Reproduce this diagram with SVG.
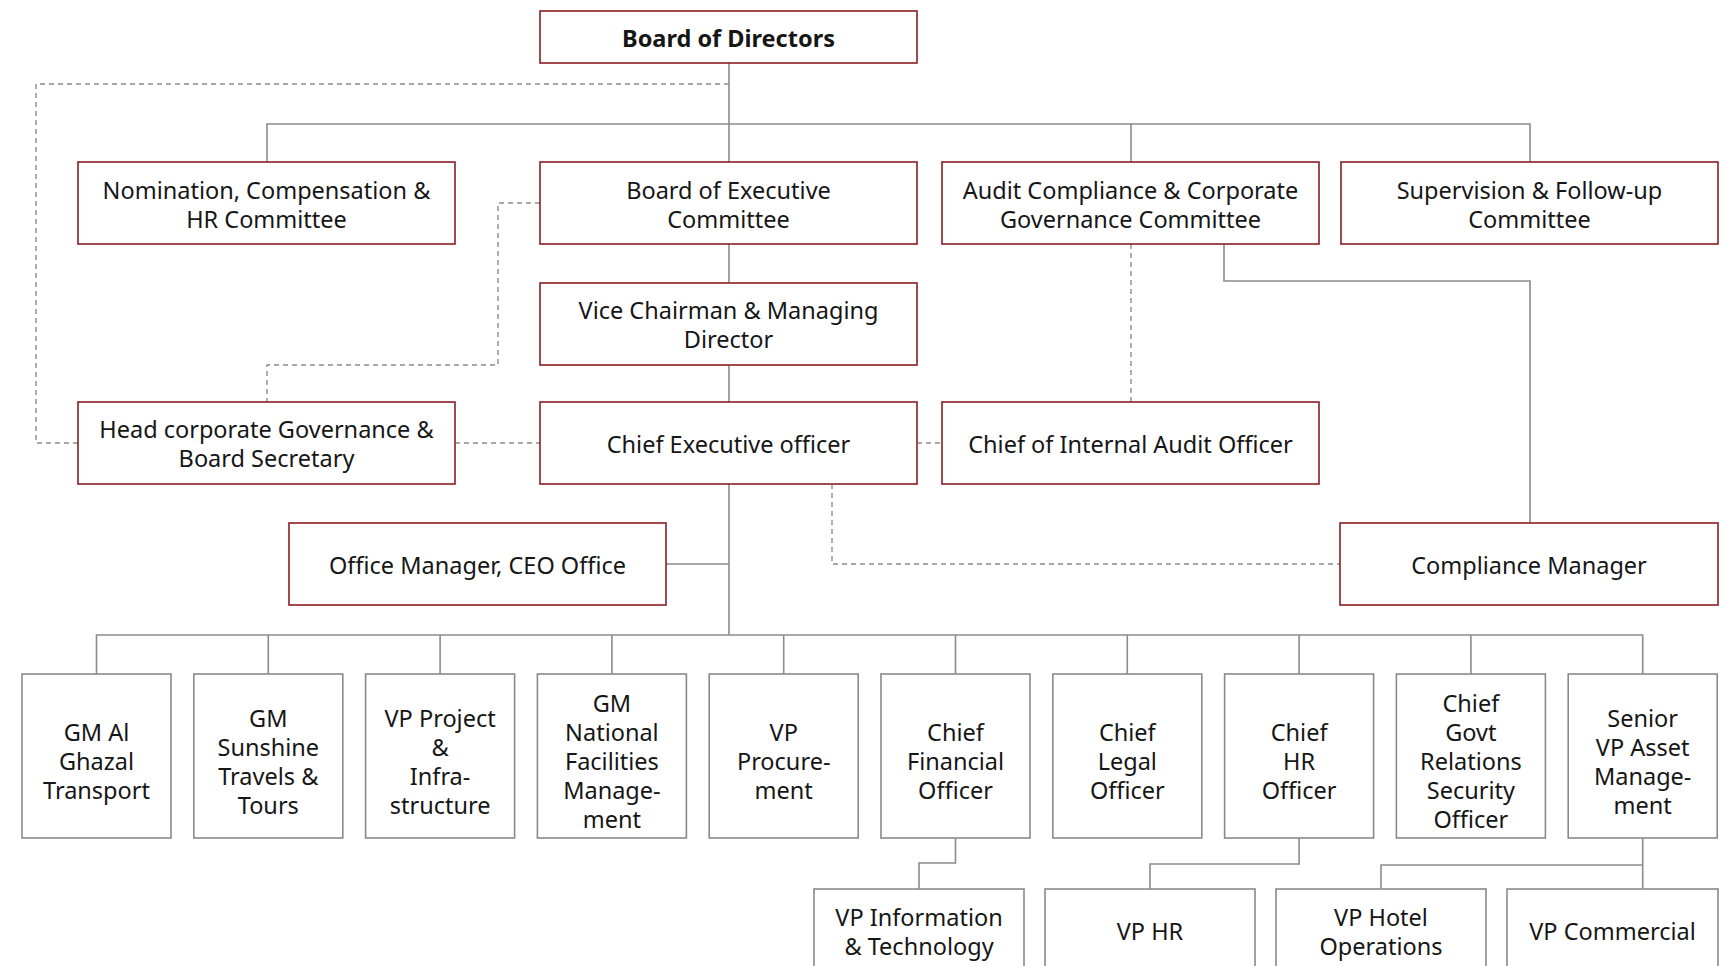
<svg xmlns="http://www.w3.org/2000/svg" width="1732" height="966" viewBox="0 0 1732 966">
  <style>
    .box-r { fill: #ffffff; stroke: #8c1d22; stroke-width: 1.6; }
    .box-g { fill: #ffffff; stroke: #8a8a8a; stroke-width: 1.6; }
    .ln { fill: none; stroke: #8c8c8c; stroke-width: 1.6; }
    .dl { fill: none; stroke: #8c8c8c; stroke-width: 1.4; stroke-dasharray: 5 4; }
    text { font-family: "Noto Sans", "Liberation Sans", sans-serif; font-size: 23.5px; fill: #161616; text-anchor: middle; dominant-baseline: central; }
    .bold { font-weight: 700; }
  </style>
  <rect width="1732" height="966" fill="#ffffff"/>

  <!-- connectors -->
  <g id="connectors">
    <!-- solid reporting lines -->
    <path class="ln" d="M729 63 V162 M729 244 V283 M729 365 V402 M729 484 V635"/>
    <path class="ln" d="M267 162 V124 H1530 V162 M1131 124 V162"/>
    <path class="ln" d="M1224 244 V281 H1530 V523"/>
    <path class="ln" d="M666 564 H729"/>
    <path class="ln" d="M96.5 674 V635 H1642.7 V674 M268.3 635 V674 M440.1 635 V674 M611.9 635 V674 M783.7 635 V674 M955.5 635 V674 M1127.3 635 V674 M1299.1 635 V674 M1470.9 635 V674"/>
    <path class="ln" d="M955.5 838 V863 H919 V889"/>
    <path class="ln" d="M1299.1 838 V864 H1150 V889"/>
    <path class="ln" d="M1642.7 838 V889 M1642.7 865 H1381 V889"/>
    <!-- dotted advisory lines -->
    <path class="dl" d="M729 84 H36 V443 H78"/>
    <path class="dl" d="M540 203 H498 V365 H267 V402"/>
    <path class="dl" d="M455 443 H540"/>
    <path class="dl" d="M917 443 H942"/>
    <path class="dl" d="M1131 244 V402"/>
    <path class="dl" d="M832 484 V564 H1340"/>
  </g>

  <!-- board level -->
  <g id="board-of-directors">
    <rect class="box-r" x="540" y="11" width="377" height="52"/>
    <text class="bold" x="728.5" y="38">Board of Directors</text>
  </g>

  <!-- committees -->
  <g id="nomination-committee">
    <rect class="box-r" x="78" y="162" width="377" height="82"/>
    <text x="266.5" y="190">Nomination, Compensation &amp;<tspan x="266.5" dy="29">HR Committee</tspan></text>
  </g>
  <g id="executive-committee">
    <rect class="box-r" x="540" y="162" width="377" height="82"/>
    <text x="728.5" y="190">Board of Executive<tspan x="728.5" dy="29">Committee</tspan></text>
  </g>
  <g id="audit-committee">
    <rect class="box-r" x="942" y="162" width="377" height="82"/>
    <text x="1130.5" y="190">Audit Compliance &amp; Corporate<tspan x="1130.5" dy="29">Governance Committee</tspan></text>
  </g>
  <g id="supervision-committee">
    <rect class="box-r" x="1341" y="162" width="377" height="82"/>
    <text x="1529.5" y="190">Supervision &amp; Follow-up<tspan x="1529.5" dy="29">Committee</tspan></text>
  </g>

  <!-- executive management -->
  <g id="vice-chairman">
    <rect class="box-r" x="540" y="283" width="377" height="82"/>
    <text x="728.5" y="310">Vice Chairman &amp; Managing<tspan x="728.5" dy="29">Director</tspan></text>
  </g>
  <g id="governance-secretary">
    <rect class="box-r" x="78" y="402" width="377" height="82"/>
    <text x="266.5" y="429">Head corporate Governance &amp;<tspan x="266.5" dy="29">Board Secretary</tspan></text>
  </g>
  <g id="ceo">
    <rect class="box-r" x="540" y="402" width="377" height="82"/>
    <text x="728.5" y="444">Chief Executive officer</text>
  </g>
  <g id="internal-audit">
    <rect class="box-r" x="942" y="402" width="377" height="82"/>
    <text x="1130.5" y="444">Chief of Internal Audit Officer</text>
  </g>
  <g id="office-manager">
    <rect class="box-r" x="289" y="523" width="377" height="82"/>
    <text x="477.5" y="565">Office Manager, CEO Office</text>
  </g>
  <g id="compliance-manager">
    <rect class="box-r" x="1340" y="523" width="378" height="82"/>
    <text x="1529" y="565">Compliance Manager</text>
  </g>

  <!-- direct reports of the CEO -->
  <g id="gm-al-ghazal">
    <rect class="box-g" x="22" y="674" width="149" height="164"/>
    <text x="96.5" y="732">GM Al<tspan x="96.5" dy="29">Ghazal</tspan><tspan x="96.5" dy="29">Transport</tspan></text>
  </g>
  <g id="gm-sunshine">
    <rect class="box-g" x="193.8" y="674" width="149" height="164"/>
    <text x="268.3" y="717.5">GM<tspan x="268.3" dy="29">Sunshine</tspan><tspan x="268.3" dy="29">Travels &amp;</tspan><tspan x="268.3" dy="29">Tours</tspan></text>
  </g>
  <g id="vp-project">
    <rect class="box-g" x="365.6" y="674" width="149" height="164"/>
    <text x="440.1" y="717.5">VP Project<tspan x="440.1" dy="29">&amp;</tspan><tspan x="440.1" dy="29">Infra-</tspan><tspan x="440.1" dy="29">structure</tspan></text>
  </g>
  <g id="gm-national-facilities">
    <rect class="box-g" x="537.4" y="674" width="149" height="164"/>
    <text x="611.9" y="703">GM<tspan x="611.9" dy="29">National</tspan><tspan x="611.9" dy="29">Facilities</tspan><tspan x="611.9" dy="29">Manage-</tspan><tspan x="611.9" dy="29">ment</tspan></text>
  </g>
  <g id="vp-procurement">
    <rect class="box-g" x="709.2" y="674" width="149" height="164"/>
    <text x="783.7" y="732">VP<tspan x="783.7" dy="29">Procure-</tspan><tspan x="783.7" dy="29">ment</tspan></text>
  </g>
  <g id="cfo">
    <rect class="box-g" x="881" y="674" width="149" height="164"/>
    <text x="955.5" y="732">Chief<tspan x="955.5" dy="29">Financial</tspan><tspan x="955.5" dy="29">Officer</tspan></text>
  </g>
  <g id="chief-legal">
    <rect class="box-g" x="1052.8" y="674" width="149" height="164"/>
    <text x="1127.3" y="732">Chief<tspan x="1127.3" dy="29">Legal</tspan><tspan x="1127.3" dy="29">Officer</tspan></text>
  </g>
  <g id="chief-hr">
    <rect class="box-g" x="1224.6" y="674" width="149" height="164"/>
    <text x="1299.1" y="732">Chief<tspan x="1299.1" dy="29">HR</tspan><tspan x="1299.1" dy="29">Officer</tspan></text>
  </g>
  <g id="chief-govt-relations">
    <rect class="box-g" x="1396.4" y="674" width="149" height="164"/>
    <text x="1470.9" y="703">Chief<tspan x="1470.9" dy="29">Govt</tspan><tspan x="1470.9" dy="29">Relations</tspan><tspan x="1470.9" dy="29">Security</tspan><tspan x="1470.9" dy="29">Officer</tspan></text>
  </g>
  <g id="svp-asset-management">
    <rect class="box-g" x="1568.2" y="674" width="149" height="164"/>
    <text x="1642.7" y="717.5">Senior<tspan x="1642.7" dy="29">VP Asset</tspan><tspan x="1642.7" dy="29">Manage-</tspan><tspan x="1642.7" dy="29">ment</tspan></text>
  </g>

  <!-- second-level reports -->
  <g id="vp-it">
    <rect class="box-g" x="814" y="889" width="210" height="84"/>
    <text x="919" y="917">VP Information<tspan x="919" dy="29">&amp; Technology</tspan></text>
  </g>
  <g id="vp-hr">
    <rect class="box-g" x="1045" y="889" width="210" height="84"/>
    <text x="1150" y="931">VP HR</text>
  </g>
  <g id="vp-hotel-operations">
    <rect class="box-g" x="1276" y="889" width="210" height="84"/>
    <text x="1381" y="917">VP Hotel<tspan x="1381" dy="29">Operations</tspan></text>
  </g>
  <g id="vp-commercial">
    <rect class="box-g" x="1507" y="889" width="211" height="84"/>
    <text x="1612.5" y="931">VP Commercial</text>
  </g>
</svg>
